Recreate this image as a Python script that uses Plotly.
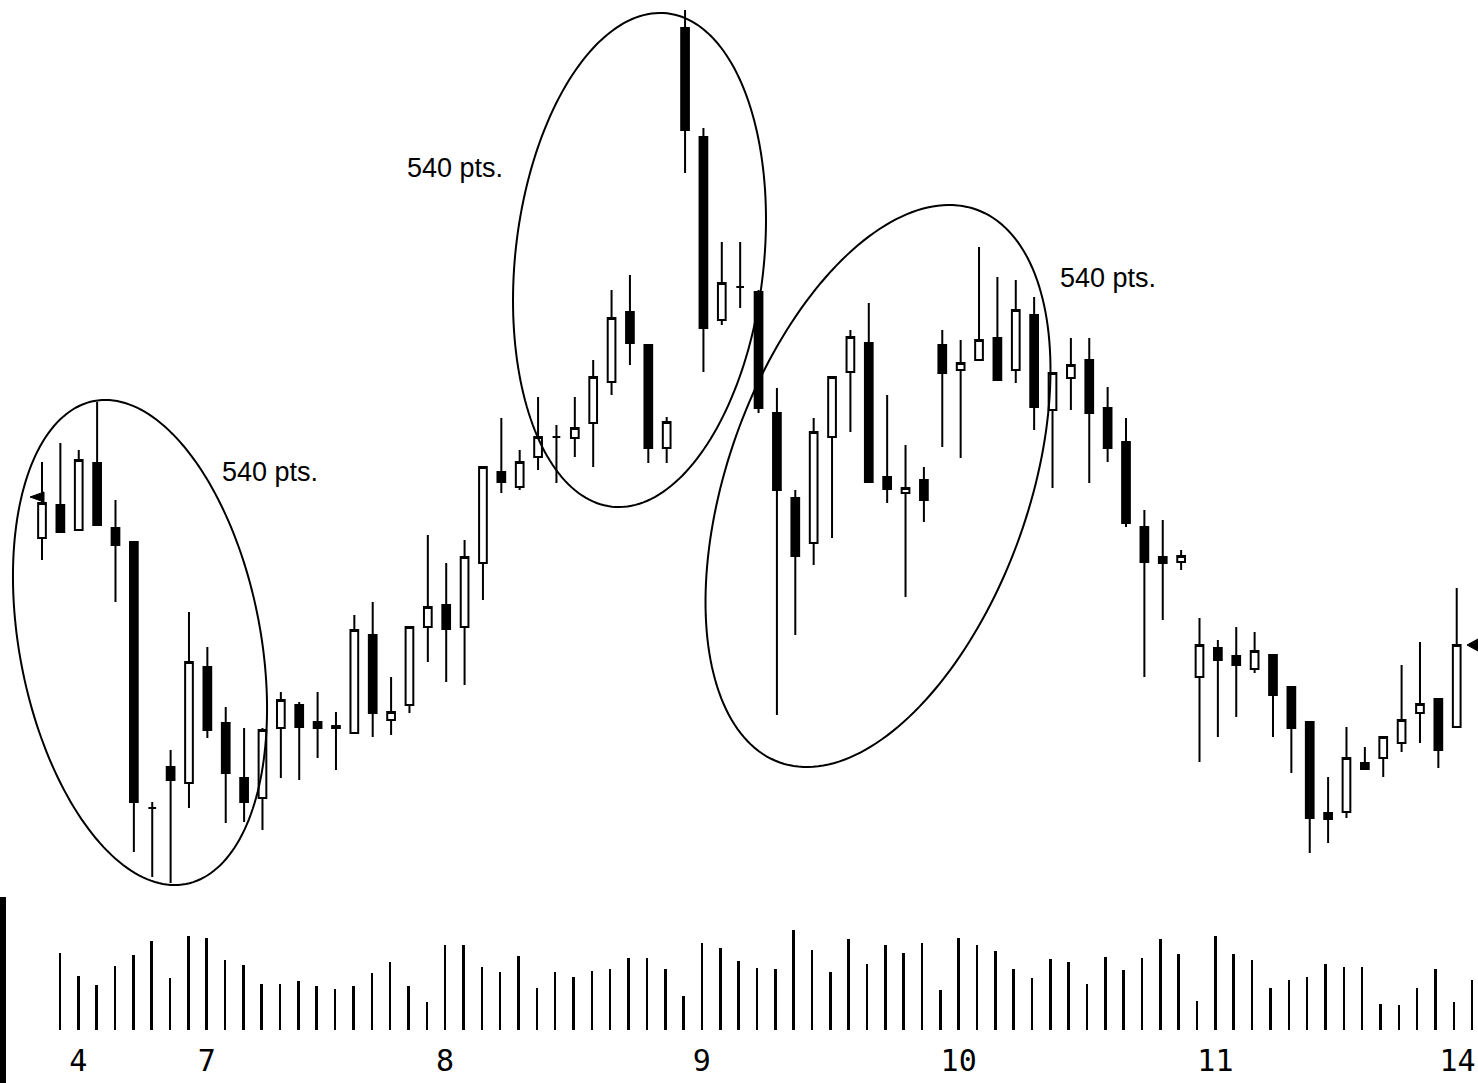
import numpy as np
import plotly.graph_objects as go

W, H = 1478, 1083

# ---------------- data ----------------
days = list(range(1, 79))
open_ = [545, 578, 553, 620, 555, 541, 275, 316, 300, 416, 360, 305, 285, 355, 378, 361, 357, 350, 448, 363,
         378, 456, 478, 456, 520, 611, 596, 626, 646, 645, 660, 701, 771, 738, 635, 1055, 946, 763, 796, 791,
         670, 585, 540, 646, 711, 740, 606, 590, 603, 738, 713, 723, 745, 713, 768, 673, 705, 723, 675, 641,
         556, 526, 521, 406, 435, 427, 414, 428, 396, 361, 270, 271, 320, 325, 340, 370, 384, 356]
high = [621, 640, 633, 681, 583, 541, 281, 333, 471, 436, 376, 355, 355, 391, 381, 391, 371, 468, 481, 406,
        456, 548, 520, 543, 616, 665, 633, 686, 658, 686, 723, 793, 808, 738, 666, 1073, 955, 841, 841, 793,
        695, 593, 665, 706, 753, 780, 688, 638, 616, 753, 743, 836, 806, 803, 786, 710, 745, 745, 696, 665,
        573, 563, 533, 465, 443, 456, 451, 428, 396, 361, 306, 356, 336, 346, 418, 441, 384, 495]
low = [523, 551, 553, 558, 481, 231, 206, 200, 275, 345, 260, 261, 253, 305, 303, 325, 313, 350, 346, 348,
       370, 421, 401, 398, 483, 590, 593, 613, 600, 626, 616, 688, 718, 620, 620, 910, 711, 758, 775, 670,
       368, 448, 518, 545, 651, 601, 580, 486, 561, 636, 625, 723, 703, 700, 653, 595, 673, 600, 621, 556,
       406, 463, 513, 321, 346, 366, 410, 346, 310, 230, 240, 265, 314, 306, 331, 340, 315, 356]
close = [580, 551, 623, 558, 538, 281, 275, 303, 421, 353, 310, 281, 353, 383, 356, 355, 355, 453, 370, 371,
         456, 476, 454, 526, 616, 601, 621, 646, 646, 655, 706, 765, 740, 635, 661, 953, 755, 800, 796, 675,
         593, 527, 651, 706, 746, 601, 594, 595, 583, 710, 720, 743, 703, 773, 676, 710, 718, 670, 635, 560,
         521, 520, 527, 438, 423, 418, 432, 388, 355, 265, 264, 325, 314, 346, 363, 379, 333, 438]
volume = [77, 54, 45, 64, 75, 89, 52, 94, 92, 70, 65, 46, 46, 49, 44, 41, 44, 57, 68, 44, 28, 85, 85, 63,
          58, 74, 42, 58, 53, 59, 61, 72, 72, 61, 34, 87, 82, 69, 62, 61, 100, 80, 58, 91, 66, 85, 77, 87,
          40, 92, 85,
          79, 61, 52, 71, 68, 46, 73, 60, 72, 91, 76, 29, 94, 76, 70, 42, 50, 53, 66, 63, 63, 26, 25, 42,
          61, 28, 50]
tick_days = [2, 9, 22, 36, 50, 64, 77.2]
tick_labels = ["4", "7", "8", "9", "10", "11", "14"]
note_text = "540 pts."

# ---------------- figure ----------------
fig = go.Figure()
fig.add_trace(go.Candlestick(
    x=days, open=open_, high=high, low=low, close=close,
    increasing=dict(line=dict(color="black", width=2), fillcolor="white"),
    decreasing=dict(line=dict(color="black", width=2), fillcolor="black"),
    whiskerwidth=0, showlegend=False, xaxis="x", yaxis="y", hoverinfo="skip"))
fig.add_trace(go.Bar(
    x=days, y=volume, width=0.14, marker=dict(color="black", line=dict(width=0)),
    xaxis="x2", yaxis="y2", showlegend=False, hoverinfo="skip"))

def px(x):
    return x / W

def py(y):
    return 1 - y / H

def ellipse_path(cx, cy, a, b, tilt_deg, n=200):
    t = np.linspace(0, 2 * np.pi, n, endpoint=False)
    phi = np.radians(tilt_deg)
    ux, uy = np.sin(phi), -np.cos(phi)
    vx, vy = np.cos(phi), np.sin(phi)
    xs = cx + a * np.cos(t) * ux + b * np.sin(t) * vx
    ys = cy + a * np.cos(t) * uy + b * np.sin(t) * vy
    pts = [f"{px(x):.5f},{py(y):.5f}" for x, y in zip(xs, ys)]
    return "M " + " L ".join(pts) + " Z"

shapes = []
for (cx, cy, a, b, tl) in [(140, 642.5, 245.8, 120.6, -10.75),
                           (639.5, 260, 248.2, 124.2, 6.4),
                           (878, 486, 293.4, 150.5, 19.55)]:
    shapes.append(dict(type="path", path=ellipse_path(cx, cy, a, b, tl), xref="paper", yref="paper",
                       line=dict(color="black", width=2), fillcolor="rgba(0,0,0,0)"))

# small flag markers
def tri(tipx, tipy, bx, half):
    return f"M {px(tipx):.5f},{py(tipy):.5f} L {px(bx):.5f},{py(tipy - half):.5f} L {px(bx):.5f},{py(tipy + half):.5f} Z"

shapes.append(dict(type="path", path=tri(30, 497, 44, 5), xref="paper", yref="paper",
                   line=dict(color="black", width=1), fillcolor="black"))
shapes.append(dict(type="path", path=tri(1467, 645, 1478, 6), xref="paper", yref="paper",
                   line=dict(color="black", width=1), fillcolor="black"))
# scan edge mark on the left
shapes.append(dict(type="rect", x0=0, x1=px(6), y0=0, y1=py(897), xref="paper", yref="paper",
                   line=dict(width=0), fillcolor="black"))

annotations = []
for (x, y) in [(455, 168), (270, 472), (1108, 278)]:
    annotations.append(dict(text=note_text, x=px(x), y=py(y), xref="paper", yref="paper",
                            showarrow=False, xanchor="center", yanchor="middle",
                            font=dict(family="Liberation Sans, Arial, sans-serif", size=27, color="black")))

hidden = dict(showgrid=False, zeroline=False, showticklabels=False, ticks="", showline=False)

fig.update_layout(
    width=W, height=H, margin=dict(l=0, r=0, t=0, b=0, pad=0),
    paper_bgcolor="white", plot_bgcolor="rgba(0,0,0,0)",
    boxgap=0.4,
    xaxis=dict(domain=[0, 1], range=[1 - 42 / 18.373, 1 + (W - 42) / 18.373], rangeslider=dict(visible=False),
               anchor="y", **hidden),
    yaxis=dict(domain=[0, 1], range=[0, H], anchor="x", **hidden),
    xaxis2=dict(domain=[0, 1], range=[1 - 60 / 18.34, 1 + (W - 60) / 18.34], anchor="y2",
                showgrid=False, zeroline=False, showline=False, ticks="",
                tickmode="array", tickvals=tick_days, ticktext=tick_labels, ticklabelstandoff=0,
                ticklabeloverflow="allow",
                tickfont=dict(family="DejaVu Sans Mono, monospace", size=30, color="black")),
    yaxis2=dict(domain=[(H - 1040) / H, 1], range=[-10, 1030], anchor="x2", **hidden),
    shapes=shapes, annotations=annotations,
    bargap=0,
)

fig.write_html(
    "out.html", config={"displayModeBar": False},
    post_script=("document.documentElement.style.overflow='hidden';"
                 "document.body.style.margin='0';document.body.style.overflow='hidden';"))
